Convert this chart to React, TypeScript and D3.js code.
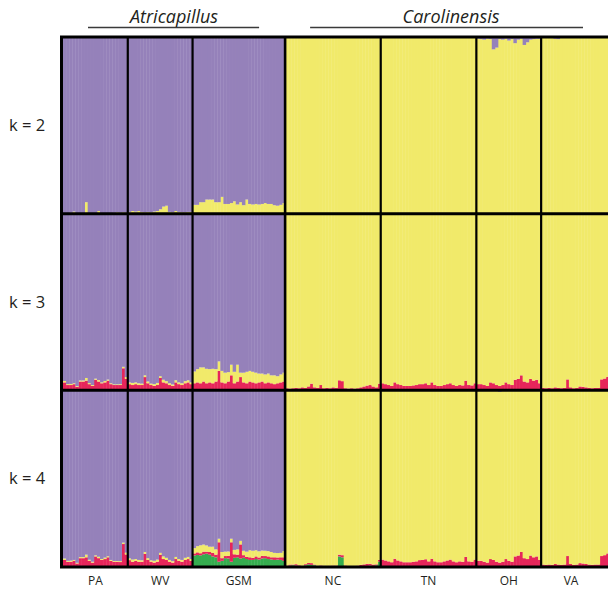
import React, { useEffect, useRef } from 'react';
import * as d3 from 'd3';

// populations in plot order, with number of sampled individuals
const populations = ['PA', 'WV', 'GSM', 'NC', 'TN', 'OH', 'VA'];
const popSizes = [21, 21, 30, 31, 31, 21, 22];
const species = ['Atricapillus', 'Carolinensis'];
const speciesOfPop = [0, 0, 0, 1, 1, 1, 1];
const kValues = [2, 3, 4];

// k = 2 : share of the other species' cluster (yellow in Atricapillus, purple in Carolinensis)
const k2Minor = [
  // PA
  0.003, 0.003, 0.005, 0.012, 0.003, 0.003, 0.003, 0.065, 0.003, 0.003, 0.003, 0.015, 0.004, 0.003, 0.003, 0.004, 0.005, 0.008, 0.006, 0.008, 0.006,
  // WV
  0.01, 0.015, 0.012, 0.015, 0.01, 0.008, 0.01, 0.008, 0.012, 0.015, 0.025, 0.04, 0.045, 0.01, 0.008, 0.015, 0.01, 0.008, 0.008, 0.01, 0.01,
  // GSM
  0.05, 0.05, 0.065, 0.065, 0.08, 0.08, 0.08, 0.065, 0.065, 0.095, 0.055, 0.055, 0.06, 0.07, 0.052, 0.065, 0.048, 0.08, 0.055, 0.052, 0.055, 0.052, 0.055, 0.06, 0.055, 0.055, 0.048, 0.045, 0.05, 0.06,
  // NC
  0.002, 0.002, 0.003, 0.002, 0.002, 0.002, 0.003, 0.002, 0.002, 0.002, 0.002, 0.003, 0.002, 0.002, 0.002, 0.002, 0.002, 0.003, 0.002, 0.002, 0.002, 0.002, 0.002, 0.002, 0.003, 0.002, 0.002, 0.002, 0.002, 0.002, 0.002,
  // TN
  0.002, 0.002, 0.002, 0.003, 0.002, 0.002, 0.002, 0.002, 0.003, 0.002, 0.002, 0.002, 0.002, 0.002, 0.003, 0.002, 0.002, 0.002, 0.002, 0.002, 0.002, 0.003, 0.002, 0.002, 0.002, 0.002, 0.002, 0.002, 0.002, 0.002, 0.002,
  // OH
  0.01, 0.012, 0.015, 0.01, 0.012, 0.07, 0.06, 0.012, 0.015, 0.01, 0.02, 0.012, 0.035, 0.015, 0.01, 0.045, 0.03, 0.015, 0.012, 0.01, 0.01,
  // VA
  0.005, 0.004, 0.005, 0.006, 0.01, 0.012, 0.004, 0.004, 0.003, 0.004, 0.003, 0.003, 0.004, 0.003, 0.003, 0.004, 0.003, 0.003, 0.003, 0.004, 0.003, 0.003,
];

// k = 3
const k3Red = [
  0.045, 0.03, 0.03, 0.035, 0.02, 0.05, 0.05, 0.055, 0.035, 0.025, 0.06, 0.05, 0.04, 0.045, 0.055, 0.035, 0.03, 0.03, 0.03, 0.125, 0.065,
  0.035, 0.03, 0.035, 0.03, 0.03, 0.075, 0.04, 0.03, 0.025, 0.03, 0.07, 0.045, 0.04, 0.03, 0.025, 0.045, 0.035, 0.03, 0.04, 0.045, 0.035,
  0.04, 0.045, 0.04, 0.05, 0.04, 0.045, 0.04, 0.05, 0.11, 0.045, 0.04, 0.05, 0.085, 0.04, 0.05, 0.075, 0.045, 0.04, 0.05, 0.045, 0.04, 0.045, 0.05, 0.04, 0.045, 0.04, 0.035, 0.04, 0.045, 0.05,
  0.012, 0.01, 0.012, 0.014, 0.012, 0.017, 0.014, 0.022, 0.038, 0.017, 0.014, 0.03, 0.012, 0.014, 0.012, 0.017, 0.014, 0.057, 0.052, 0.012, 0.01, 0.012, 0.01, 0.012, 0.017, 0.022, 0.027, 0.03, 0.022, 0.017, 0.038,
  0.04, 0.035, 0.03, 0.025, 0.045, 0.035, 0.03, 0.025, 0.025, 0.025, 0.028, 0.03, 0.035, 0.035, 0.04, 0.03, 0.045, 0.03, 0.025, 0.025, 0.03, 0.035, 0.04, 0.03, 0.025, 0.03, 0.028, 0.055, 0.03, 0.028, 0.04,
  0.035, 0.035, 0.03, 0.025, 0.045, 0.04, 0.03, 0.025, 0.03, 0.045, 0.035, 0.03, 0.06, 0.065, 0.085, 0.05, 0.045, 0.065, 0.055, 0.06, 0.04,
  0.014, 0.012, 0.014, 0.012, 0.017, 0.014, 0.012, 0.014, 0.062, 0.017, 0.012, 0.014, 0.022, 0.02, 0.017, 0.014, 0.012, 0.014, 0.014, 0.062, 0.067, 0.077,
];
const k3Minor = [
  0.008, 0.005, 0.006, 0.005, 0.004, 0.006, 0.006, 0.015, 0.006, 0.005, 0.006, 0.008, 0.005, 0.008, 0.006, 0.005, 0.004, 0.004, 0.005, 0.008, 0.01,
  0.01, 0.012, 0.01, 0.01, 0.008, 0.01, 0.01, 0.008, 0.01, 0.012, 0.01, 0.015, 0.012, 0.01, 0.008, 0.012, 0.01, 0.01, 0.012, 0.012, 0.01,
  0.067, 0.075, 0.09, 0.08, 0.082, 0.075, 0.082, 0.07, 0.054, 0.065, 0.06, 0.053, 0.06, 0.065, 0.095, 0.025, 0.055, 0.065, 0.06, 0.06, 0.06, 0.05, 0.045, 0.05, 0.05, 0.045, 0.05, 0.04, 0.045, 0.05,
  0.001, 0.001, 0.001, 0.001, 0.001, 0.001, 0.001, 0.001, 0.001, 0.001, 0.001, 0.001, 0.001, 0.001, 0.001, 0.001, 0.001, 0.001, 0.001, 0.001, 0.001, 0.001, 0.001, 0.001, 0.001, 0.001, 0.001, 0.001, 0.001, 0.001, 0.001,
  0.001, 0.001, 0.001, 0.001, 0.001, 0.001, 0.001, 0.001, 0.001, 0.001, 0.001, 0.001, 0.001, 0.001, 0.001, 0.001, 0.001, 0.001, 0.001, 0.001, 0.001, 0.001, 0.001, 0.001, 0.001, 0.001, 0.001, 0.001, 0.001, 0.001, 0.001,
  0.004, 0.004, 0.005, 0.008, 0.004, 0.004, 0.006, 0.004, 0.004, 0.004, 0.004, 0.004, 0.006, 0.004, 0.004, 0.004, 0.004, 0.004, 0.004, 0.004, 0.004,
  0.001, 0.001, 0.001, 0.001, 0.001, 0.004, 0.001, 0.001, 0.001, 0.001, 0.001, 0.001, 0.001, 0.001, 0.001, 0.001, 0.001, 0.001, 0.001, 0.001, 0.001, 0.001,
];

// k = 4
const k4Green = [
  0, 0, 0, 0, 0, 0, 0, 0, 0, 0, 0, 0, 0, 0, 0, 0, 0, 0, 0, 0, 0.006,
  0.004, 0, 0, 0, 0, 0, 0, 0, 0, 0, 0, 0, 0, 0, 0, 0, 0, 0, 0, 0, 0,
  0.065, 0.068, 0.066, 0.072, 0.075, 0.07, 0.06, 0.055, 0.03, 0.035, 0.05, 0.048, 0.03, 0.052, 0.055, 0.048, 0.052, 0.045, 0.04, 0.04, 0.045, 0.042, 0.048, 0.05, 0.045, 0.043, 0.04, 0.042, 0.04, 0.035,
  0.004, 0.008, 0.01, 0.008, 0.006, 0.004, 0.01, 0.015, 0.012, 0.01, 0.004, 0.006, 0.004, 0.003, 0.004, 0.004, 0.005, 0.06, 0.055, 0.006, 0.003, 0.003, 0.003, 0.004, 0.004, 0.005, 0.006, 0.008, 0.006, 0.01, 0.03,
  0.002, 0.002, 0.002, 0.002, 0.002, 0.002, 0.002, 0.002, 0.002, 0.002, 0.002, 0.002, 0.004, 0.005, 0.004, 0.002, 0.002, 0.002, 0.002, 0.002, 0.002, 0.002, 0.002, 0.002, 0.002, 0.002, 0.002, 0.002, 0.002, 0.002, 0.002,
  0, 0, 0, 0, 0, 0, 0, 0, 0, 0, 0, 0, 0, 0, 0, 0, 0, 0, 0, 0, 0,
  0, 0, 0, 0, 0, 0, 0, 0, 0, 0, 0, 0, 0, 0, 0, 0, 0, 0, 0, 0, 0, 0,
];
const k4Red = [
  0.04, 0.03, 0.03, 0.035, 0.02, 0.05, 0.05, 0.055, 0.035, 0.025, 0.06, 0.05, 0.04, 0.045, 0.055, 0.035, 0.03, 0.03, 0.028, 0.13, 0.065,
  0.035, 0.03, 0.035, 0.03, 0.03, 0.075, 0.04, 0.03, 0.025, 0.03, 0.07, 0.045, 0.04, 0.03, 0.025, 0.045, 0.035, 0.03, 0.04, 0.045, 0.035,
  0.012, 0.015, 0.012, 0.015, 0.012, 0.015, 0.02, 0.015, 0.11, 0.015, 0.012, 0.015, 0.11, 0.02, 0.015, 0.08, 0.015, 0.012, 0.015, 0.012, 0.015, 0.012, 0.015, 0.012, 0.015, 0.012, 0.015, 0.012, 0.015, 0.02,
  0.004, 0.006, 0.004, 0.008, 0.004, 0.003, 0.006, 0.008, 0.01, 0.004, 0.003, 0.003, 0.003, 0.003, 0.003, 0.004, 0.003, 0.01, 0.012, 0.003, 0.003, 0.003, 0.003, 0.004, 0.008, 0.01, 0.012, 0.01, 0.008, 0.005, 0.01,
  0.04, 0.035, 0.03, 0.025, 0.045, 0.035, 0.03, 0.025, 0.025, 0.025, 0.028, 0.03, 0.035, 0.035, 0.04, 0.03, 0.045, 0.03, 0.025, 0.025, 0.03, 0.035, 0.04, 0.03, 0.025, 0.03, 0.028, 0.055, 0.03, 0.028, 0.04,
  0.035, 0.035, 0.03, 0.025, 0.045, 0.04, 0.03, 0.025, 0.03, 0.045, 0.035, 0.03, 0.06, 0.065, 0.085, 0.05, 0.045, 0.065, 0.055, 0.06, 0.04,
  0.014, 0.012, 0.014, 0.012, 0.017, 0.014, 0.012, 0.014, 0.062, 0.017, 0.012, 0.014, 0.022, 0.02, 0.017, 0.014, 0.012, 0.014, 0.014, 0.062, 0.067, 0.077,
];
const k4Minor = [
  0.008, 0.005, 0.006, 0.005, 0.004, 0.006, 0.006, 0.015, 0.006, 0.005, 0.006, 0.008, 0.005, 0.008, 0.006, 0.005, 0.004, 0.004, 0.005, 0.008, 0.01,
  0.01, 0.012, 0.01, 0.01, 0.008, 0.01, 0.01, 0.008, 0.01, 0.012, 0.01, 0.015, 0.012, 0.01, 0.008, 0.012, 0.01, 0.01, 0.012, 0.012, 0.01,
  0.03, 0.035, 0.045, 0.04, 0.035, 0.03, 0.035, 0.03, 0.02, 0.035, 0.025, 0.025, 0.02, 0.025, 0.03, 0.02, 0.025, 0.03, 0.04, 0.04, 0.035, 0.035, 0.03, 0.03, 0.03, 0.03, 0.025, 0.025, 0.025, 0.035,
  0.001, 0.001, 0.001, 0.001, 0.001, 0.001, 0.001, 0.001, 0.001, 0.001, 0.001, 0.001, 0.001, 0.001, 0.001, 0.001, 0.001, 0.001, 0.001, 0.001, 0.001, 0.001, 0.001, 0.001, 0.001, 0.001, 0.001, 0.001, 0.001, 0.001, 0.001,
  0.001, 0.001, 0.001, 0.001, 0.001, 0.001, 0.001, 0.001, 0.001, 0.001, 0.001, 0.001, 0.001, 0.001, 0.001, 0.001, 0.001, 0.001, 0.001, 0.001, 0.001, 0.001, 0.001, 0.001, 0.001, 0.001, 0.001, 0.001, 0.001, 0.001, 0.001,
  0.003, 0.003, 0.004, 0.003, 0.003, 0.003, 0.004, 0.008, 0.003, 0.003, 0.003, 0.003, 0.003, 0.003, 0.003, 0.003, 0.003, 0.003, 0.003, 0.003, 0.003,
  0.001, 0.001, 0.001, 0.001, 0.001, 0.001, 0.001, 0.001, 0.001, 0.001, 0.001, 0.001, 0.001, 0.001, 0.001, 0.001, 0.001, 0.001, 0.001, 0.001, 0.001, 0.001,
];

const clusterKeys = ['green', 'red', 'yellow', 'purple'] as const;
const clusterColors: Record<string, string> = {
  green: '#35ad4f',
  red: '#e6255a',
  yellow: '#f1ea6a',
  purple: '#9581ba',
};

type Row = { id: number; green: number; red: number; yellow: number; purple: number };

const popOfIndex: number[] = popSizes.flatMap((n, p) => d3.range(n).map(() => p));

function buildRows(green: number[] | null, red: number[] | null, minor: number[]): Row[] {
  return minor.map((m, i) => {
    const g = green ? green[i] : 0;
    const r = red ? red[i] : 0;
    const rest = 1 - g - r - m;
    // Atricapillus: minor cluster is yellow; Carolinensis: minor is purple
    return speciesOfPop[popOfIndex[i]] === 0
      ? { id: i, green: g, red: r, yellow: m, purple: rest }
      : { id: i, green: g, red: r, yellow: rest, purple: m };
  });
}

const App: React.FC = () => {
  const ref = useRef<SVGSVGElement>(null);

  useEffect(() => {
    if (!ref.current) return;
    const width = 608;
    const height = 589;
    const svg = d3.select(ref.current).attr('width', width).attr('height', height);
    svg.selectAll('*').remove();

    const font = "'Open Sans', 'Noto Sans', sans-serif";
    const total = d3.sum(popSizes);
    const x = d3.scaleBand<number>().domain(d3.range(total)).range([63, 609]);
    const yBand = d3.scaleBand<number>().domain(kValues).range([37, 567]);

    const datasets: Record<number, Row[]> = {
      2: buildRows(null, null, k2Minor),
      3: buildRows(null, k3Red, k3Minor),
      4: buildRows(k4Green, k4Red, k4Minor),
    };

    const stack = d3.stack<Row>().keys(clusterKeys as unknown as string[]);
    const popStarts = d3.cumsum([0, ...popSizes]);

    kValues.forEach(k => {
      const top = yBand(k)!;
      const y = d3.scaleLinear().domain([0, 1]).range([top + yBand.bandwidth(), top]);
      const series = stack(datasets[k]);
      const g = svg.append('g');
      g.selectAll('g')
        .data(series)
        .enter().append('g')
        .attr('fill', d => clusterColors[d.key])
        .selectAll('rect')
        .data(d => d)
        .enter().append('rect')
        .attr('x', d => x(d.data.id)!)
        .attr('width', x.bandwidth() + 0.4)
        .attr('y', d => y(d[1]))
        .attr('height', d => Math.max(0, y(d[0]) - y(d[1])));

      // faint individual separators
      g.selectAll('line.sep')
        .data(d3.range(1, total))
        .enter().append('line')
        .attr('x1', d => x(d)!).attr('x2', d => x(d)!)
        .attr('y1', top).attr('y2', top + yBand.bandwidth())
        .attr('stroke', '#ffffff').attr('stroke-opacity', 0.04).attr('stroke-width', 0.6);

      svg.append('text')
        .attr('x', 9)
        .attr('y', top + yBand.bandwidth() / 2)
        .attr('dy', '0.35em')
        .attr('font-family', font)
        .attr('font-size', 16.5)
        .attr('fill', '#231f20')
        .text(`k = ${k}`);
    });

    // population dividers
    popStarts.slice(1, -1).forEach((s, i) => {
      svg.append('line')
        .attr('x1', x(s)!).attr('x2', x(s)!)
        .attr('y1', 37).attr('y2', 567)
        .attr('stroke', '#000')
        .attr('stroke-width', i === 2 ? 2.6 : 2.2);
    });

    // row dividers and frame
    kValues.slice(1).forEach(k => {
      svg.append('line')
        .attr('x1', 61).attr('x2', 610)
        .attr('y1', yBand(k)!).attr('y2', yBand(k)!)
        .attr('stroke', '#000').attr('stroke-width', 3);
    });
    svg.append('rect')
      .attr('x', 61.5).attr('y', 37)
      .attr('width', 560).attr('height', 530)
      .attr('fill', 'none').attr('stroke', '#000').attr('stroke-width', 3);

    // population labels
    populations.forEach((p, i) => {
      const cx = (x(popStarts[i])! + (popStarts[i + 1] < total ? x(popStarts[i + 1])! : 609)) / 2;
      const adj = i === populations.length - 1 ? -4 : 0;
      svg.append('text')
        .attr('x', cx + adj)
        .attr('y', 585)
        .attr('text-anchor', 'middle')
        .attr('font-family', font)
        .attr('font-size', 12)
        .attr('fill', '#231f20')
        .text(p);
    });

    // species headers
    species.forEach((sp, s) => {
      const idx = speciesOfPop.map((v, i) => (v === s ? i : -1)).filter(i => i >= 0);
      const x0 = x(popStarts[idx[0]])!;
      const endIdx = popStarts[idx[idx.length - 1] + 1];
      const x1 = endIdx < total ? x(endIdx)! : 609;
      svg.append('line')
        .attr('x1', x0 + 25).attr('x2', x1 - 26)
        .attr('y1', 27.5).attr('y2', 27.5)
        .attr('stroke', '#3a3a3a').attr('stroke-width', 1.6);
      svg.append('text')
        .attr('x', (x0 + x1) / 2 + (s === 1 ? 4 : 0))
        .attr('y', 23)
        .attr('text-anchor', 'middle')
        .attr('font-family', font)
        .attr('font-style', 'italic')
        .attr('font-size', 18)
        .attr('fill', '#231f20')
        .text(sp);
    });
  }, []);

  return (
    <svg ref={ref} style={{ position: 'absolute', left: 0, top: 0, display: 'block' }}></svg>
  );
};

export default App;
